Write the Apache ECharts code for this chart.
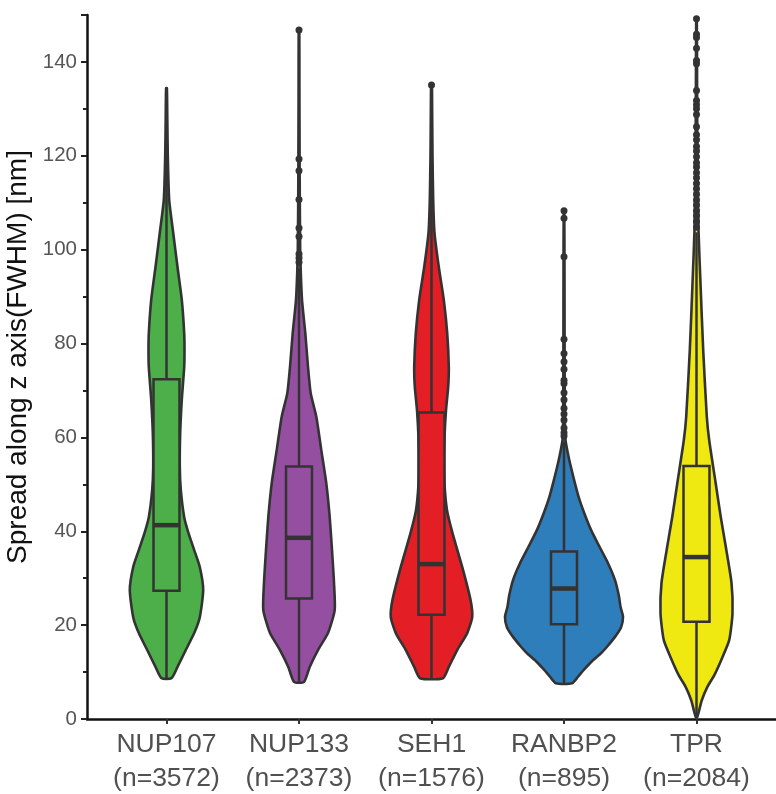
<!DOCTYPE html>
<html>
<head>
<meta charset="utf-8">
<script src="https://cdn.jsdelivr.net/npm/echarts@6/dist/echarts.min.js"></script>
<style>
html,body{margin:0;padding:0;background:#fff;}
#chart{width:776px;height:794px;}
</style>
</head>
<body>
<div id="chart"></div>
<script>
// ---------- DATA ----------
const categories = ['NUP107', 'NUP133', 'SEH1', 'RANBP2', 'TPR'];
const counts = [3572, 2373, 1576, 895, 2084];
const yTicks = [0, 20, 40, 60, 80, 100, 120, 140];

// violin outlines: value levels and relative density (half-width)
const nup107Levels  = [8.7, 11.1, 14.7, 18.3, 21.7, 27.5, 32.4, 36, 39.6, 43, 48.8, 53.7, 60.9, 68, 75, 78.6, 82.2, 89.3, 96.3, 103.6, 110.6, 120, 128, 134.4];
const nup107Density = [5, 11, 19.3, 27.7, 33.3, 36.7, 33.3, 27.7, 22, 17.7, 14.3, 13.3, 13.7, 15.3, 17.7, 18, 17.7, 15.3, 11, 6.7, 2.7, 1.3, 0.8, 0.4];

const nup133Levels  = [7.9, 11.1, 14.7, 18.3, 23.2, 29, 36, 43, 50.2, 57.3, 64.4, 69.4, 75, 82.2, 89.3, 95, 100, 110, 120, 135, 146.8];
const nup133Density = [5, 10.7, 19, 29, 35.7, 35, 33, 30.7, 27.3, 22.3, 17.3, 11.7, 9, 6.3, 3, 1.8, 1.2, 0.8, 0.6, 0.4, 0.3];

const seh1Levels  = [8.7, 11.1, 14.7, 18.3, 21.7, 25.4, 32.4, 39.6, 44.5, 50, 55, 60, 65.8, 70.8, 75, 82.2, 89.3, 96.3, 103.6, 110.6, 120, 128, 135];
const seh1Density = [11.5, 17.3, 25.7, 35.7, 40.7, 39, 30.7, 21, 15.5, 13, 12.5, 13, 14.5, 16.7, 17.3, 15.7, 12.3, 7.3, 3, 1.7, 1, 0.7, 0.4];

const ranbp2Levels  = [7.6, 9, 10.5, 12.3, 14, 15.4, 17.5, 19.5, 21.8, 23.9, 26.1, 29.6, 33.2, 36.7, 40.3, 44, 47.4, 51, 54.5, 57, 59.4, 65, 80, 95, 108.3];
const ranbp2Density = [8, 14, 20, 28, 37, 43, 51, 57, 59, 56.5, 55, 51, 44, 35.5, 27, 20, 14.5, 10, 6, 3.5, 1.5, 0.8, 0.6, 0.5, 0.3];

const tprLevels  = [0.3, 1.3, 4, 6.9, 9.3, 12.7, 16.8, 22.5, 29, 36.7, 43, 50.5, 59.4, 64.4, 78.6, 92.8, 104.2, 115, 125, 135, 149.2];
const tprDensity = [0.5, 2, 5.3, 11, 17.7, 25, 32.7, 36, 35, 29.3, 24.3, 19, 12.7, 10.3, 6.7, 4, 2, 1.2, 0.8, 0.6, 0.3];

// box statistics
const q1Values      = [27.3, 25.7, 22.2, 20.2, 20.7];
const medianValues  = [41.3, 38.6, 33.0, 27.8, 34.5];
const q3Values      = [72.4, 53.8, 65.3, 35.7, 53.9];
const whiskerLow    = [8.7, 7.9, 8.7, 7.6, 0.3];
const whiskerHigh   = [134.4, 96, 129, 59, 103.7];

// outliers
const nup107Outliers = [];
const nup133Outliers = [146.8, 119.3, 116.8, 110.7, 104.6, 102.8, 99.1, 98.2, 97.3];
const seh1Outliers   = [135.1];
const ranbp2Outliers = [108.3, 106.7, 98.5, 80.9, 77.9, 76.1, 74.5, 72.2, 71.5, 69.5, 68, 66.2, 65, 63.7, 62, 61, 60.3];
const tprOutliers    = [149.2, 145.9, 145.2, 142.9, 140.3, 139.6, 133.9, 131.8, 130.9, 130, 128.8, 126.2, 124.5, 123.4, 122, 121, 119.8, 118.5, 117.6, 116.4, 115.3, 114.1, 113, 111.8, 110.6, 109.5, 108.3, 107.2, 106, 104.8];

// ---------- BUILD ----------
const levelSets   = [nup107Levels, nup133Levels, seh1Levels, ranbp2Levels, tprLevels];
const densitySets = [nup107Density, nup133Density, seh1Density, ranbp2Density, tprDensity];
const outlierSets = [nup107Outliers, nup133Outliers, seh1Outliers, ranbp2Outliers, tprOutliers];
const fills = ['#4CAF4A', '#954FA0', '#E31E24', '#2F7EBC', '#F0E911'];
const EDGE = '#333333';
const DENSITY_TO_X = 1 / 132.5;   // density unit -> x-axis units
const BOX_HALF = 0.098;          // x-axis units

const outlierData = [];
outlierSets.forEach((arr, i) => arr.forEach(v => outlierData.push([i, v])));

function renderViolin(params, api) {
  const i = params.dataIndex;
  const lv = levelSets[i], dn = densitySets[i];
  const pts = [];
  for (let k = 0; k < lv.length; k++) pts.push(api.coord([i + dn[k] * DENSITY_TO_X, lv[k]]));
  for (let k = lv.length - 1; k >= 0; k--) pts.push(api.coord([i - dn[k] * DENSITY_TO_X, lv[k]]));
  const c = api.coord([i, 0]);
  const pQ1 = api.coord([i - BOX_HALF, q1Values[i]]);
  const pQ3 = api.coord([i + BOX_HALF, q3Values[i]]);
  const pMedL = api.coord([i - BOX_HALF, medianValues[i]]);
  const pMedR = api.coord([i + BOX_HALF, medianValues[i]]);
  const pLo = api.coord([i, whiskerLow[i]]);
  const pHi = api.coord([i, whiskerHigh[i]]);
  const x = c[0];
  return {
    type: 'group',
    children: [
      { type: 'polygon', shape: { points: pts, smooth: 0.2 },
        style: { fill: fills[i], stroke: EDGE, lineWidth: 2.6, lineJoin: 'round' } },
      { type: 'line', shape: { x1: x, y1: pQ3[1], x2: x, y2: pHi[1] },
        style: { stroke: EDGE, lineWidth: 2.5 } },
      { type: 'line', shape: { x1: x, y1: pQ1[1], x2: x, y2: pLo[1] },
        style: { stroke: EDGE, lineWidth: 2.5 } },
      { type: 'rect', shape: { x: pQ1[0], y: pQ3[1], width: pQ3[0] - pQ1[0], height: pQ1[1] - pQ3[1] },
        style: { fill: fills[i], stroke: EDGE, lineWidth: 2.5 } },
      { type: 'line', shape: { x1: pMedL[0], y1: pMedL[1], x2: pMedR[0], y2: pMedR[1] },
        style: { stroke: EDGE, lineWidth: 4.5 } }
    ]
  };
}

const chart = echarts.init(document.getElementById('chart'), null, { renderer: 'canvas' });
chart.setOption({
  animation: false,
  backgroundColor: '#ffffff',
  grid: { left: 87, right: 0, top: 15, bottom: 75, containLabel: false, outerBoundsMode: 'none' },
  xAxis: {
    type: 'value', min: -0.6, max: 4.6,
    splitLine: { show: false },
    axisLine: { show: true, onZero: false, lineStyle: { color: '#111', width: 2.5 } },
    axisTick: { show: true, customValues: [0, 1, 2, 3, 4], length: 5, lineStyle: { color: '#333', width: 2 } },
    axisLabel: {
      customValues: [0, 1, 2, 3, 4],
      formatter: v => categories[Math.round(v)] + '\n(n=' + counts[Math.round(v)] + ')',
      fontFamily: 'Liberation Sans', fontSize: 26.5, lineHeight: 34, color: '#505050', margin: 9
    }
  },
  yAxis: {
    type: 'value', min: 0, max: 150, interval: 20,
    name: 'Spread along z axis(FWHM) [nm]',
    nameLocation: 'middle', nameGap: 47,
    nameTextStyle: { fontFamily: 'Liberation Sans', fontSize: 28, color: '#111', padding: [0, 0, 0, 20] },
    splitLine: { show: false },
    axisLine: { show: true, onZero: false, lineStyle: { color: '#111', width: 2.5 } },
    axisTick: { show: true, length: 6, lineStyle: { color: '#222', width: 2 } },
    minorTick: { show: true, splitNumber: 2, length: 4, lineStyle: { color: '#222', width: 2 } },
    axisLabel: {
      showMaxLabel: false,
      formatter: v => (yTicks.indexOf(v) >= 0 ? String(v) : ''),
      fontFamily: 'Liberation Sans', fontSize: 20.5, color: '#555', margin: 10
    }
  },
  series: [
    { type: 'custom', renderItem: renderViolin, data: categories.map((c, i) => [i, medianValues[i]]), z: 2 },
    { type: 'scatter', data: outlierData, symbol: 'circle', symbolSize: 7,
      itemStyle: { color: EDGE, opacity: 1 }, z: 3 }
  ]
});
</script>
</body>
</html>
